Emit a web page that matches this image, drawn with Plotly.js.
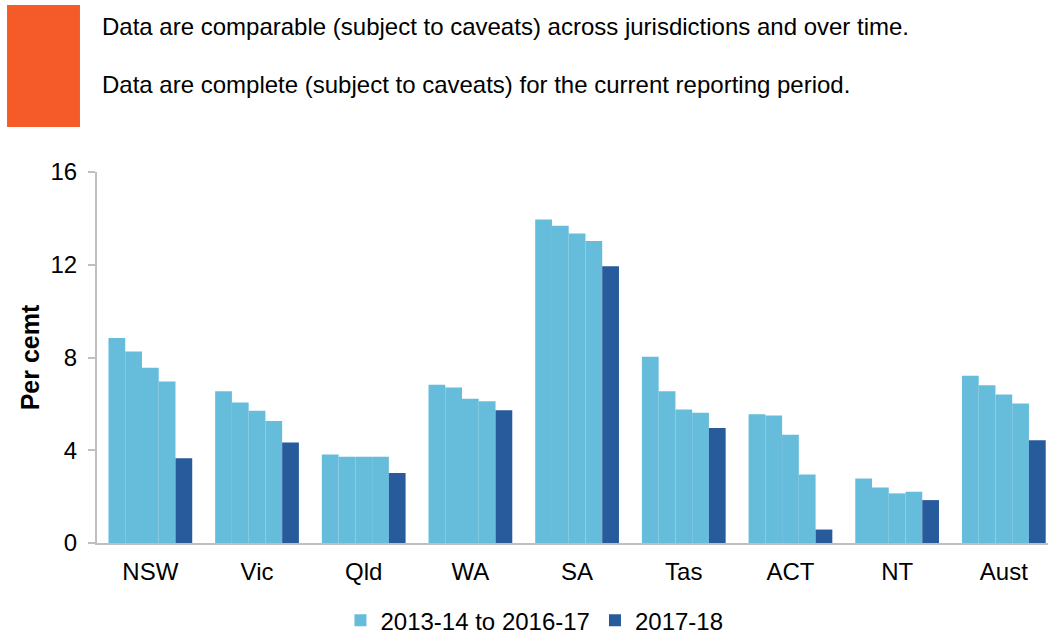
<!DOCTYPE html>
<html>
<head>
<meta charset="utf-8">
<script src="https://cdn.plot.ly/plotly-3.0.1.min.js"></script>
<style>html,body{margin:0;padding:0;background:#fff;}#chart{width:1048px;height:636px;}</style>
</head>
<body>
<div id="chart"></div>
<script>
const categories = ['NSW','Vic','Qld','WA','SA','Tas','ACT','NT','Aust'];
const y2013_14 = [8.84, 6.54, 3.82, 6.83, 13.95, 8.03, 5.55, 2.78, 7.21];
const y2014_15 = [8.26, 6.06, 3.72, 6.71, 13.68, 6.54, 5.50, 2.39, 6.80];
const y2015_16 = [7.56, 5.70, 3.72, 6.22, 13.35, 5.76, 4.67, 2.14, 6.40];
const y2016_17 = [6.97, 5.26, 3.72, 6.11, 13.02, 5.62, 2.95, 2.21, 6.02];
const y2017_18 = [3.65, 4.33, 3.02, 5.72, 11.93, 4.96, 0.58, 1.85, 4.43];
const legendNames = ['2013-14 to 2016-17', '2017-18'];
const yTicks = [0, 4, 8, 12, 16];

const light = '#66bcdb';
const dark = '#275b9b';
const font = 'Arial, "Liberation Sans", sans-serif';

const earlier = [y2013_14, y2014_15, y2015_16, y2016_17];
const traces = earlier.map((vals, i) => ({
  type: 'bar', x: categories, y: vals,
  name: legendNames[0], legendgroup: 'a', showlegend: i === 0,
  marker: {color: light}, hoverinfo: 'skip'
}));
traces.push({
  type: 'bar', x: categories, y: y2017_18,
  name: legendNames[1], legendgroup: 'b',
  marker: {color: dark}, hoverinfo: 'skip'
});

const layout = {
  width: 1048, height: 636,
  margin: {l: 97, r: 0, t: 172, b: 93, autoexpand: false},
  paper_bgcolor: '#fff', plot_bgcolor: '#fff',
  font: {family: font, size: 24, color: '#000'},
  barmode: 'group', bargap: 0.215, bargroupgap: 0,
  showlegend: true,
  legend: {orientation: 'h', x: 0.46, xanchor: 'center',
           yref: 'container', y: 0.024, yanchor: 'middle',
           font: {size: 24}, itemwidth: 30, traceorder: 'normal'},
  xaxis: {
    range: [-0.5, 8.414], fixedrange: true, automargin: false,
    showline: true, linecolor: '#bfbfbf', linewidth: 2,
    ticks: '', ticklabelstandoff: 6,
    tickfont: {size: 24}, showgrid: false, zeroline: false
  },
  yaxis: {
    range: [0, 16], tickvals: yTicks, ticktext: yTicks.map(String), automargin: false,
    showline: true, linecolor: '#bfbfbf', linewidth: 2,
    ticks: 'outside', ticklen: 7, tickcolor: '#bfbfbf', tickwidth: 2,
    ticklabelstandoff: 6,
    tickfont: {size: 24}, showgrid: false, zeroline: false,
    title: {text: '<b>Per cemt</b>', font: {size: 25}, standoff: 4}
  },
  shapes: [{
    type: 'rect', xref: 'paper', yref: 'paper',
    x0: -0.0946, x1: -0.0179, y0: 1.121, y1: 1.450,
    fillcolor: '#f45b28', line: {width: 0}
  }],
  annotations: [
    {xref: 'paper', yref: 'paper', x: 0.003, y: 1.393, xanchor: 'left', yanchor: 'middle',
     text: 'Data are comparable (subject to caveats) across jurisdictions and over time.',
     showarrow: false, font: {size: 24}},
    {xref: 'paper', yref: 'paper', x: 0.003, y: 1.235, xanchor: 'left', yanchor: 'middle',
     text: 'Data are complete (subject to caveats) for the current reporting period.',
     showarrow: false, font: {size: 24}}
  ]
};

Plotly.newPlot('chart', traces, layout, {displayModeBar: false, staticPlot: true});
</script>
</body>
</html>
